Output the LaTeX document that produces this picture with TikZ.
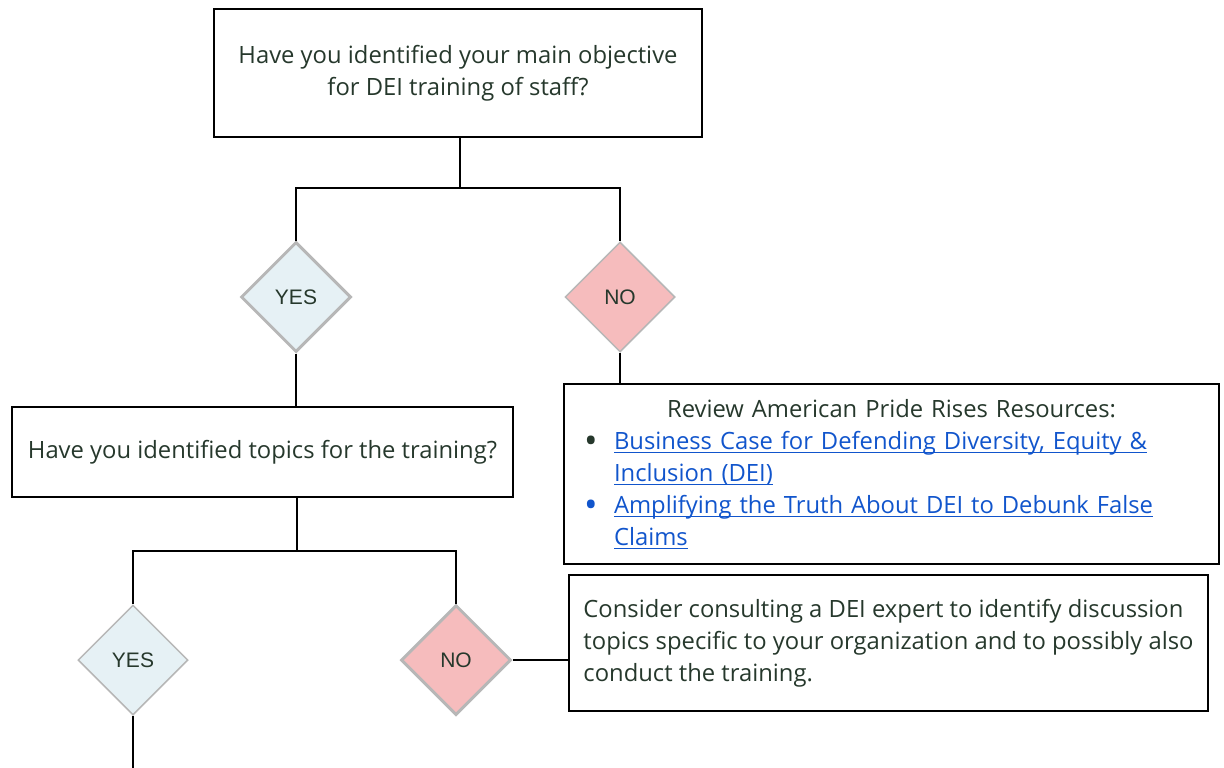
\documentclass[tikz,border=0pt]{standalone}
\usepackage{fontspec}
\setmainfont{Open Sans}
\newfontfamily\diafont{Liberation Sans}
\usetikzlibrary{shapes.geometric}
\definecolor{deitext}{RGB}{38,56,44}
\definecolor{deilink}{RGB}{17,85,204}
\definecolor{deiyes}{RGB}{230,241,245}
\definecolor{deino}{RGB}{246,188,189}
\definecolor{deiedge}{RGB}{183,183,183}
\newcommand{\reslink}[1]{\textcolor{deilink}{\setbox0\hbox{#1}\rlap{\rule[-4pt]{\wd0}{1.4pt}}\box0}}
\newcommand{\resdot}{\makebox[30pt][l]{\raisebox{-4.5pt}{\fontsize{36}{32}\selectfont\textbullet}}}

\begin{document}
\begin{tikzpicture}[x=1pt, y=-1pt,
  qbox/.style={draw=black, line width=2pt, text=deitext, inner sep=0pt,
    font=\fontsize{23.8}{32}\selectfont},
  answer/.style={diamond, aspect=1, minimum width=110, minimum height=110,
    inner sep=0pt, draw=deiedge, text=deitext, font=\diafont\fontsize{21}{24}\selectfont},
  yes/.style={answer, fill=deiyes},
  no/.style={answer, fill=deino},
  wire/.style={line width=2pt, black}]
  \useasboundingbox (0,0) rectangle (1224,768);

  % questions
  \node[qbox, minimum width=488, minimum height=128, align=center] (q1) at (458,73)
    {Have you identified your main objective\\for DEI training of staff?};
  \node[qbox, minimum width=501, minimum height=90, align=center] (q2) at (262.5,452)
    {Have you identified topics for the training?};

  % answers
  \node[yes, line width=3pt] (yes1) at (296,297) {YES};
  \node[no, line width=1.5pt] (no1) at (620,297) {NO};
  \node[yes, line width=1.5pt] (yes2) at (133,660) {YES};
  \node[no, line width=3pt] (no2) at (456,660) {NO};

  % advice boxes
  \node[qbox, anchor=north west, minimum width=655, minimum height=180,
    text width=615, inner xsep=20pt, align=left] (res) at (563,383) {%
    \makebox[615pt][c]{Review American Pride Rises Resources:}\\
    \resdot\reslink{Business Case for Defending Diversity, Equity \&}\\
    \hspace*{30pt}\reslink{Inclusion (DEI)}\\
    {\color{deilink}\resdot}\reslink{Amplifying the Truth About DEI to Debunk False}\\
    \hspace*{30pt}\reslink{Claims}};
  \node[qbox, anchor=north west, minimum width=639, minimum height=136,
    align=left] (adv) at (568,574)
    {Consider consulting a DEI expert to identify discussion\\
     topics specific to your organization and to possibly also\\
     conduct the training.};

  % connectors
  \coordinate (split1) at (460,188);
  \coordinate (split2) at (297,551);
  \coordinate (cont) at (133,768);
  \draw[wire] (split1 |- q1.south) -- (split1);
  \draw[wire] (yes1.north) |- (split1) -| (no1.north);
  \draw[wire] (yes1.south) -- (yes1.south |- q2.north);
  \draw[wire] (no1.south) -- (no1.south |- res.north);
  \draw[wire] (split2 |- q2.south) -- (split2);
  \draw[wire] (yes2.north) |- (split2) -| (no2.north);
  \draw[wire] (no2.east) -- (no2.east -| adv.west);
  \draw[wire] (yes2.south) -- (cont);
\end{tikzpicture}
\end{document}
